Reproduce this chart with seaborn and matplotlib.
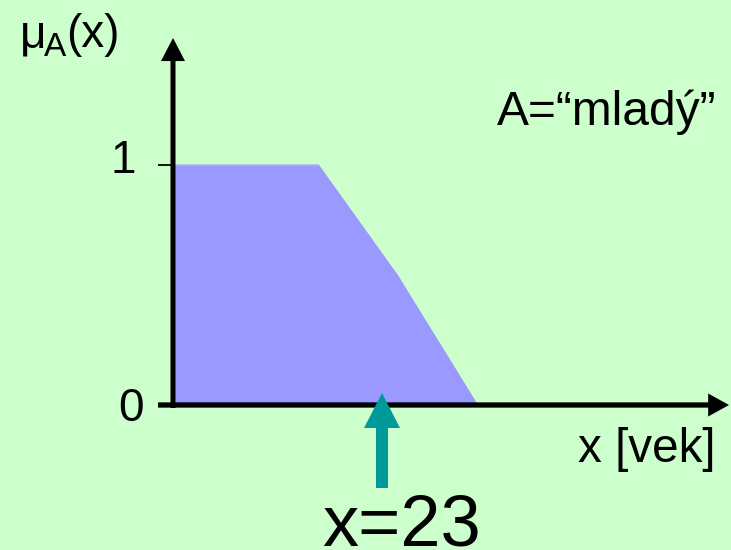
import matplotlib
matplotlib.use("Agg")
import matplotlib.pyplot as plt
import seaborn as sns
from matplotlib.patches import FancyArrowPatch

# --- data -------------------------------------------------------------
ages = [0, 16, 24.7, 33.5]          # age axis (schematic)
membership = [1, 1, 0.54, 0]        # mu_A(x) for A = "mladý"
x_value = 23                        # marked input value
y_ticks = [0, 1]
y_tick_labels = ["0", "1"]

BG = "#CCFFCC"
FILL = "#9999FF"
TEAL = "#009999"

sns.set_theme(style="white")
plt.rcParams["font.family"] = ["Liberation Sans", "DejaVu Sans"]

W, H = 731, 550
fig = plt.figure(figsize=(W / 100, H / 100), dpi=100, facecolor=BG)
ax = fig.add_axes([0, 0, 1, 1])
ax.set_facecolor(BG)
ax.set_axis_off()

# pixel mapping of the reference: px = 173 + kx*age, py = 405 - 240*mu
kx = 209 / 23
ax.set_xlim(-173 / kx, (W - 173) / kx)
ax.set_ylim((405 - H) / 240, 405 / 240)

def px2x(px):
    return (px - 173) / kx

def py2y(py):
    return (405 - py) / 240

# membership function
ax.fill_between(ages, membership, 0, color=FILL, lw=0, zorder=1)
sns.lineplot(x=ages, y=membership, color=FILL, lw=0.8, ax=ax, zorder=1,
             sort=False, estimator=None)

# y axis with arrow
ax.add_patch(FancyArrowPatch((0, py2y(408)), (0, py2y(38)),
             arrowstyle="simple,head_length=16.6,head_width=17.3,tail_width=3.6",
             mutation_scale=1, color="black", lw=0, shrinkA=0, shrinkB=0, zorder=3))
# x axis with arrow
ax.add_patch(FancyArrowPatch((px2x(158), 0), (px2x(729), 0),
             arrowstyle="simple,head_length=15,head_width=16.6,tail_width=3.8",
             mutation_scale=1, color="black", lw=0, shrinkA=0, shrinkB=0, zorder=3))
# tick at 1
ax.plot([px2x(158), 0], [y_ticks[1], y_ticks[1]], color="black", lw=1.3,
        solid_capstyle="butt", zorder=3)

# teal arrow at x = 23
ax.add_patch(FancyArrowPatch((x_value, py2y(488)), (x_value, py2y(393)),
             arrowstyle="simple,head_length=25.2,head_width=25.9,tail_width=8.6",
             mutation_scale=1, color=TEAL, lw=0, shrinkA=0, shrinkB=0, zorder=4))

def ftext(px, py, s, size, ha="left", va="baseline"):
    fig.text(px / W, 1 - py / H, s, fontsize=size, ha=ha, va=va, color="black")

# labels
ftext(20, 47, "μ", 33)
ftext(44, 56, "A", 24)
ftext(66, 47, "(x)", 33)
ftext(136, 173, y_tick_labels[1], 33, ha="right")
ftext(144, 421, y_tick_labels[0], 33, ha="right")
ftext(497, 125, "A=\u201cmladý\u201d", 34.5)
ftext(578, 462, "x [vek]", 34.3)
ftext(402, 545, f"x={x_value}", 52, ha="center")

fig.savefig("out.png", dpi=100, facecolor=BG)
